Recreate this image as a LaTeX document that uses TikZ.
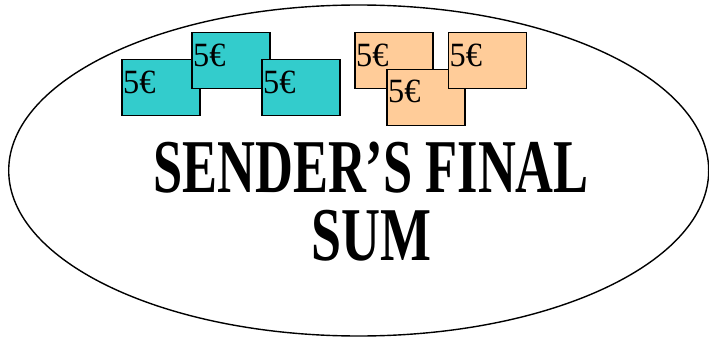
\documentclass[tikz,border=0pt]{standalone}
\usepackage{fontspec}
\usepackage{graphicx}
\setmainfont{LiberationSerif}[Extension=.ttf, UprightFont=*-Regular, BoldFont=*-Bold, ItalicFont=*-Italic, BoldItalicFont=*-BoldItalic]
\usetikzlibrary{shapes.geometric}
\definecolor{billcyan}{RGB}{51,204,204}
\definecolor{billorange}{RGB}{255,204,153}
\newcommand{\billlabel}{\scalebox{0.95}[1]{5€}}
\tikzset{
  bill/.style={draw=black, line width=1.5pt, anchor=north west, inner sep=0pt,
    minimum width=78pt, minimum height=56pt},
  billtext/.style={anchor=base west, inner sep=0pt, font=\fontsize{34}{34}\selectfont},
  titletext/.style={anchor=center, inner sep=0pt, align=center,
    font=\bfseries\fontsize{76}{68}\selectfont},
  oval/.style={draw=black, ellipse, line width=1.4pt, inner sep=0pt,
    minimum width=700pt, minimum height=331pt}
}
\begin{document}
\begin{tikzpicture}[x=1pt, y=-1pt]
\useasboundingbox (0,0) rectangle (709,342);
\fill[white] (0,0) rectangle (709,342);
\node[oval] (frame) at (358.7,170.5) {};
% cyan bills
\node[bill, fill=billcyan] (c1) at (121,59) {};
\node[billtext] (c1t) at ([xshift=2pt,yshift=-35pt]c1.north west) {\billlabel};
\node[bill, fill=billcyan] (c2) at (191,32) {};
\node[billtext] (c2t) at ([xshift=2pt,yshift=-35pt]c2.north west) {\billlabel};
\node[bill, fill=billcyan] (c3) at (261,59) {};
\node[billtext] (c3t) at ([xshift=2pt,yshift=-35pt]c3.north west) {\billlabel};
% orange bills
\node[bill, fill=billorange] (o1) at (354,32) {};
\node[billtext] (o1t) at ([xshift=2pt,yshift=-35pt]o1.north west) {\billlabel};
\node[bill, fill=billorange] (o2) at (386,69) {};
\node[billtext] (o2t) at ([xshift=2pt,yshift=-34pt]o2.north west) {\billlabel};
\node[bill, fill=billorange] (o3) at (447.5,32) {};
\node[billtext] (o3t) at ([xshift=2pt,yshift=-35pt]o3.north west) {\billlabel};
% title
\node[titletext] (title) at (371,202) {\scalebox{0.69}[1]{SENDER’S FINAL}\\\scalebox{0.71}[1]{SUM}};
\end{tikzpicture}
\end{document}
